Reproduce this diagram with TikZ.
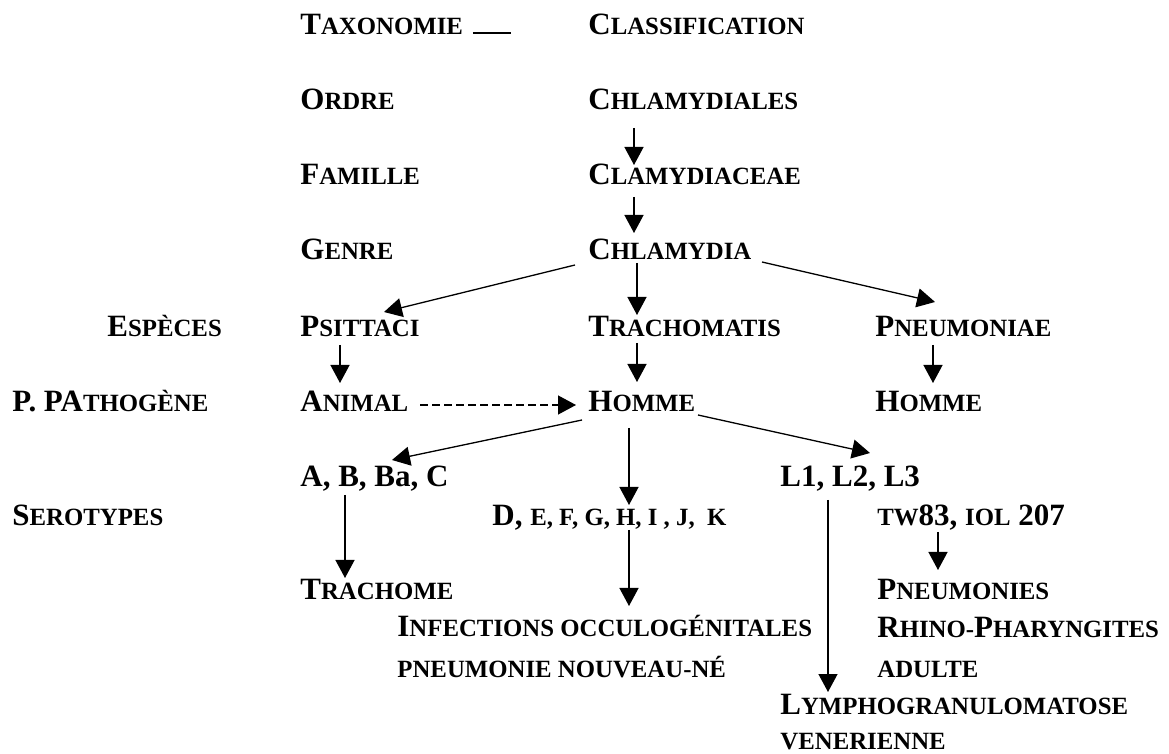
\documentclass[tikz,border=0pt]{standalone}
\usepackage{fontspec}
\setmainfont{Liberation Serif}
\usetikzlibrary{arrows.meta}
\newcommand\petit[1]{{\fontsize{12.4pt}{14pt}\selectfont #1}}

\begin{document}
\begin{tikzpicture}[x=0.5pt,y=-0.5pt]
		\tikzstyle{fleche}=[-{Triangle[length=9pt,width=9.5pt]},line width=0.65pt]
		\tikzstyle{pointille}=[fleche,dash pattern=on 3.75pt off 2.25pt]
		\tikzstyle{noeud}=[anchor=base west,inner sep=0pt,font=\fontsize{15.5pt}{18pt}\selectfont\bfseries]
		\useasboundingbox (0,0) rectangle (1169,754);
		% colonne des rangs
		\node[noeud] (taxo) at (300,35) {T\petit{AXONOMIE}\hspace{5pt}\rule[0.5pt]{19pt}{0.85pt}};
		\node[noeud] (ordre) at (300,110) {O\petit{RDRE}};
		\node[noeud] (famille) at (300,185) {F\petit{AMILLE}};
		\node[noeud] (genre) at (300,260) {G\petit{ENRE}};
		\node[noeud] (especes) at (107,337) {E\petit{SPÈCES}};
		\node[noeud] (pathogene) at (12,412) {P. PA\petit{THOGÈNE}};
		\node[noeud] (serotypes) at (12,525) {S\petit{EROTYPES}};
		% classification
		\node[noeud] (classif) at (588,35) {C\petit{LASSIFICATION}};
		\node[noeud] (chlamydiales) at (588,110) {C\petit{HLAMYDIALES}};
		\node[noeud] (clamydiaceae) at (588,185) {C\petit{LAMYDIACEAE}};
		\node[noeud] (chlamydia) at (588,260) {C\petit{HLAMYDIA}};
		\node[noeud] (psittaci) at (300,337) {P\petit{SITTACI}};
		\node[noeud] (trachomatis) at (588,337) {T\petit{RACHOMATIS}};
		\node[noeud] (pneumoniae) at (875,337) {P\petit{NEUMONIAE}};
		\node[noeud] (animal) at (300,412) {A\petit{NIMAL}};
		\node[noeud] (homme) at (588,412) {H\petit{OMME}};
		\node[noeud] (hommeB) at (875,412) {H\petit{OMME}};
		\node[noeud] (abbac) at (300,487) {A, B, Ba, C};
		\node[noeud] (lun) at (780,487) {L1, L2, L3};
		\node[noeud] (dk) at (492,525) {D, \petit{E, F, G, H, I , J, \ K}};
		\node[noeud] (tw) at (877,525) {\petit{TW}83, \petit{IOL} 207};
		\node[noeud] (trachome) at (300,600) {T\petit{RACHOME}};
		\node[noeud] (infections) at (397,637) {I\petit{NFECTIONS OCCULOGÉNITALES}};
		\node[noeud] (nouveaune) at (397,677) {\petit{PNEUMONIE NOUVEAU-NÉ}};
		\node[noeud] (pneumonies) at (877,600) {P\petit{NEUMONIES}};
		\node[noeud] (rhino) at (877,638) {R\petit{HINO-}P\petit{HARYNGITES}};
		\node[noeud] (adulte) at (877,677) {\petit{ADULTE}};
		\node[noeud] (lympho) at (780,714) {L\petit{YMPHOGRANULOMATOSE}};
		\node[noeud] (venerienne) at (780,749) {\petit{VENERIENNE}};
		% fleches
		\draw[fleche] ([shift={(46,18)}]chlamydiales.base west)--([shift={(46,-20)}]clamydiaceae.base west);
		\draw[fleche] ([shift={(46,12)}]clamydiaceae.base west)--([shift={(46,-27)}]chlamydia.base west);
		\draw[fleche] ([shift={(-13,5)}]chlamydia.base west)--([shift={(84,-25)}]psittaci.base west);
		\draw[fleche] ([shift={(49,3)}]chlamydia.base west)--([shift={(49,-22)}]trachomatis.base west);
		\draw[fleche] ([shift={(174,2)}]chlamydia.base west)--([shift={(60,-35)}]pneumoniae.base west);
		\draw[fleche] ([shift={(40,8)}]psittaci.base west)--([shift={(40,-29)}]animal.base west);
		\draw[fleche] ([shift={(49,6)}]trachomatis.base west)--([shift={(49,-30)}]homme.base west);
		\draw[fleche] ([shift={(58,8)}]pneumoniae.base west)--([shift={(58,-29)}]hommeB.base west);
		\draw[pointille] ([shift={(120,-7)}]animal.base west)--([shift={(-12,-7)}]homme.base west);
		\draw[fleche] ([shift={(-6,8)}]homme.base west)--([shift={(92,-27)}]abbac.base west);
		\draw[fleche] ([shift={(41,16)}]homme.base west)--([shift={(137,-20)}]dk.base west);
		\draw[fleche] ([shift={(110,3)}]homme.base west)--([shift={(90,-34)}]lun.base west);
		\draw[fleche] ([shift={(45,8)}]abbac.base west)--([shift={(45,-22)}]trachome.base west);
		\draw[fleche] ([shift={(137,5)}]dk.base west)--([shift={(232,-31)}]infections.base west);
		\draw[fleche] ([shift={(48,13)}]lun.base west)--([shift={(48,-22)}]lympho.base west);
		\draw[fleche] ([shift={(61,7)}]tw.base west)--([shift={(61,-30)}]pneumonies.base west);
	\end{tikzpicture}
\end{document}
